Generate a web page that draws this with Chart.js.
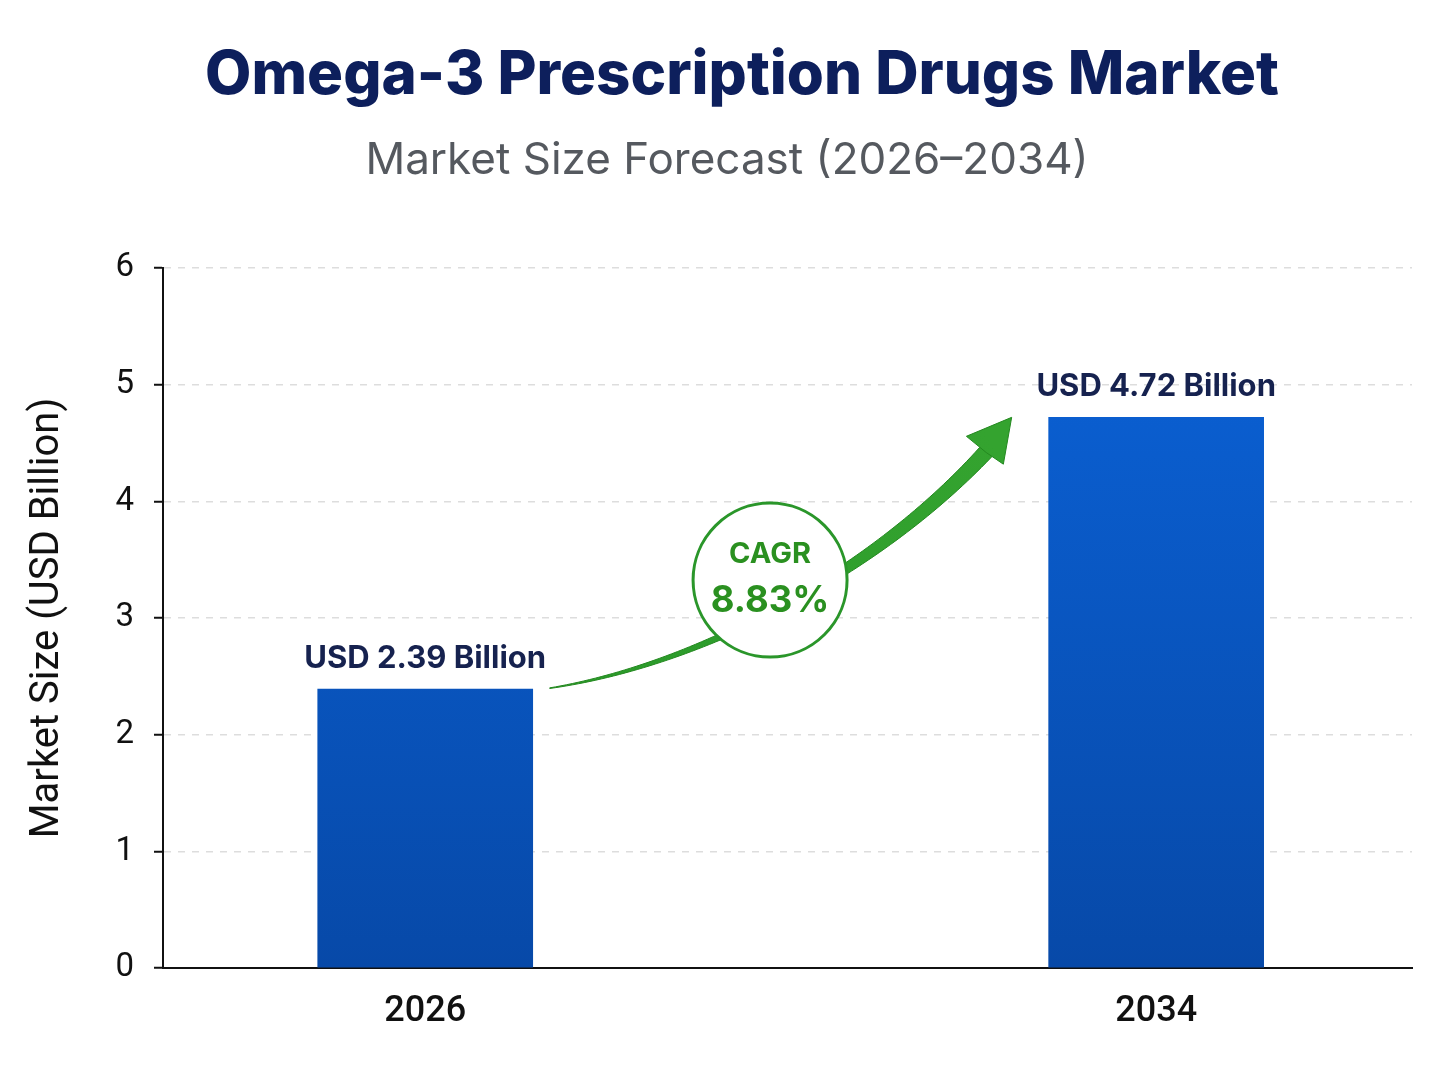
<!DOCTYPE html>
<html>
<head>
<meta charset="utf-8">
<script src="https://cdn.jsdelivr.net/npm/chart.js@4.4.1/dist/chart.umd.min.js"></script>
<style>
html,body{margin:0;padding:0;background:#fff;}
#wrap{width:1448px;height:1086px;}
</style>
</head>
<body>
<div id="wrap"><canvas id="c" width="1448" height="1086"></canvas></div>
<script>
const years = [2026, 2034];
const marketSize = [2.39, 4.72];
const valueLabels = ['USD 2.39 Billion', 'USD 4.72 Billion'];
const yTicks = [0, 1, 2, 3, 4, 5, 6];
const cagrLabel = 'CAGR';
const cagrValue = '8.83%';
const titleText = 'Omega-3 Prescription Drugs Market';
const subtitleText = 'Market Size Forecast (2026\u20132034)';
const yAxisTitle = 'Market Size (USD Billion)';

const FONT = 'Inter, "Noto Sans", sans-serif';
const FONT2 = 'Roboto, "Noto Sans", sans-serif';

const barGradient = (ctx) => {
  const chart = ctx.chart;
  const area = chart.chartArea;
  if (!area) return '#0a5ad0';
  const g = chart.ctx.createLinearGradient(0, area.top, 0, area.bottom);
  g.addColorStop(0, '#0b63d9');
  g.addColorStop(1, '#0749a8');
  return g;
};

const titlePlugin = {
  id: 'titles',
  afterDraw(chart) {
    const ctx = chart.ctx;
    const cx = chart.width / 2;
    ctx.save();
    ctx.textAlign = 'center';
    ctx.textBaseline = 'alphabetic';
    ctx.fillStyle = '#0d1f5c';
    ctx.font = '800 60px ' + FONT;
    ctx.fillText(titleText, cx + 18, 94);
    ctx.fillStyle = '#55595f';
    ctx.font = '400 44px ' + FONT;
    ctx.fillText(subtitleText, cx + 3, 174);
    ctx.restore();
  }
};

const labelsPlugin = {
  id: 'valueLabels',
  afterDatasetsDraw(chart) {
    const ctx = chart.ctx;
    const meta = chart.getDatasetMeta(0);
    ctx.save();
    ctx.font = '700 31px ' + FONT;
    ctx.fillStyle = '#16224f';
    ctx.textAlign = 'center';
    ctx.textBaseline = 'alphabetic';
    meta.data.forEach((bar, i) => {
      ctx.fillText(valueLabels[i], bar.x, bar.y - 21);
    });
    ctx.restore();
  }
};

const arrowPlugin = {
  id: 'cagrArrow',
  afterDatasetsDraw(chart) {
    const ctx = chart.ctx;
    const meta = chart.getDatasetMeta(0);
    const b1 = meta.data[0], b2 = meta.data[1];
    const sx = b1.x + b1.width / 2 + 17, sy = b1.y - 1;
    const tx = b2.x - b2.width / 2 - 37, ty = b2.y;
    const P = (u, v) => [sx + u * (tx - sx), sy + v * (ty - sy)];
    const p0 = P(0, 0), p1 = P(0.325, 0.085), p2 = P(0.716, 0.435), p3 = P(0.961, 0.904);
    const bez = (t) => {
      const a = (1 - t) ** 3, b = 3 * (1 - t) ** 2 * t, c = 3 * (1 - t) * t * t, d = t ** 3;
      return [a * p0[0] + b * p1[0] + c * p2[0] + d * p3[0], a * p0[1] + b * p1[1] + c * p2[1] + d * p3[1]];
    };
    const N = 80;
    const left = [], right = [];
    for (let i = 0; i <= N; i++) {
      const t = i / N;
      const p = bez(t);
      const q = bez(Math.min(1, t + 0.01)), r = bez(Math.max(0, t - 0.01));
      let dx = q[0] - r[0], dy = q[1] - r[1];
      const len = Math.hypot(dx, dy) || 1;
      dx /= len; dy /= len;
      const w = (0.6 + 15 * t) / 2;
      left.push([p[0] - dy * w, p[1] + dx * w]);
      right.push([p[0] + dy * w, p[1] - dx * w]);
    }
    ctx.save();
    const grad = ctx.createLinearGradient(p0[0], p0[1], p3[0], p3[1]);
    grad.addColorStop(0, '#2a9a2a');
    grad.addColorStop(1, '#34a32f');
    ctx.fillStyle = grad;
    ctx.strokeStyle = '#23881f';
    ctx.lineWidth = 1;
    ctx.beginPath();
    ctx.moveTo(left[0][0], left[0][1]);
    left.forEach(p => ctx.lineTo(p[0], p[1]));
    for (let i = right.length - 1; i >= 0; i--) ctx.lineTo(right[i][0], right[i][1]);
    ctx.closePath();
    ctx.fill();
    ctx.stroke();
    const tip = P(1, 1), w1 = P(0.902, 0.93), w2 = P(0.982, 0.827), notch = P(0.945, 0.87);
    ctx.beginPath();
    ctx.moveTo(tip[0], tip[1]);
    ctx.lineTo(w1[0], w1[1]);
    ctx.lineTo(notch[0], notch[1]);
    ctx.lineTo(w2[0], w2[1]);
    ctx.closePath();
    ctx.fill();
    ctx.stroke();
    const c = P(0.477, 0.399);
    ctx.beginPath();
    ctx.arc(c[0], c[1], 77, 0, Math.PI * 2);
    ctx.fillStyle = '#ffffff';
    ctx.fill();
    ctx.lineWidth = 3;
    ctx.strokeStyle = '#2a962a';
    ctx.stroke();
    ctx.fillStyle = '#2a9020';
    ctx.textAlign = 'center';
    ctx.textBaseline = 'alphabetic';
    ctx.font = '700 29px ' + FONT;
    ctx.fillText(cagrLabel, c[0], c[1] - 17);
    ctx.font = '700 36.5px ' + FONT;
    ctx.fillText(cagrValue, c[0], c[1] + 32);
    ctx.restore();
  }
};

new Chart(document.getElementById('c'), {
  type: 'bar',
  data: {
    datasets: [{
      data: years.map((y, i) => ({ x: y, y: marketSize[i] })),
      backgroundColor: barGradient,
      borderWidth: 0,
      barThickness: 215
    }]
  },
  options: {
    responsive: false,
    animation: false,
    devicePixelRatio: 1,
    layout: { padding: { left: 20, right: 36, bottom: 20, top: 268 } },
    plugins: {
      legend: { display: false },
      tooltip: { enabled: false },
      title: { display: false },
      subtitle: { display: false }
    },
    scales: {
      x: {
        type: 'linear',
        offset: false,
        min: 2023.13,
        max: 2036.8,
        afterBuildTicks: (scale) => { scale.ticks = years.map(v => ({ value: v })); },
        afterFit: (scale) => { scale.height = 98; },
        grid: { display: false, drawTicks: false },
        border: { display: true, color: '#111', width: 2 },
        ticks: {
          color: '#111',
          font: { family: FONT2, size: 36, weight: '500' },
          padding: 22,
          callback: (v) => String(v),
          maxRotation: 0,
          autoSkip: false
        }
      },
      y: {
        min: 0,
        max: 6,
        afterBuildTicks: (scale) => { scale.ticks = yTicks.map(v => ({ value: v })); },
        afterFit: (scale) => { scale.width = 143; },
        grid: {
          color: '#dddddd',
          lineWidth: 1.5,
          tickColor: '#111',
          tickWidth: 2,
          tickLength: 9,
          tickBorderDash: []
        },
        border: { display: true, color: '#111', width: 2, dash: [7, 7] },
        ticks: {
          color: '#111',
          font: { family: FONT2, size: 33, weight: '400' },
          padding: 20,
          callback: (v) => String(v)
        },
        title: {
          display: true,
          text: yAxisTitle,
          color: '#111',
          font: { family: FONT2, size: 40, weight: '400' },
          padding: { top: 4, bottom: 10 }
        }
      }
    }
  },
  plugins: [labelsPlugin, arrowPlugin, titlePlugin]
});
</script>
</body>
</html>
